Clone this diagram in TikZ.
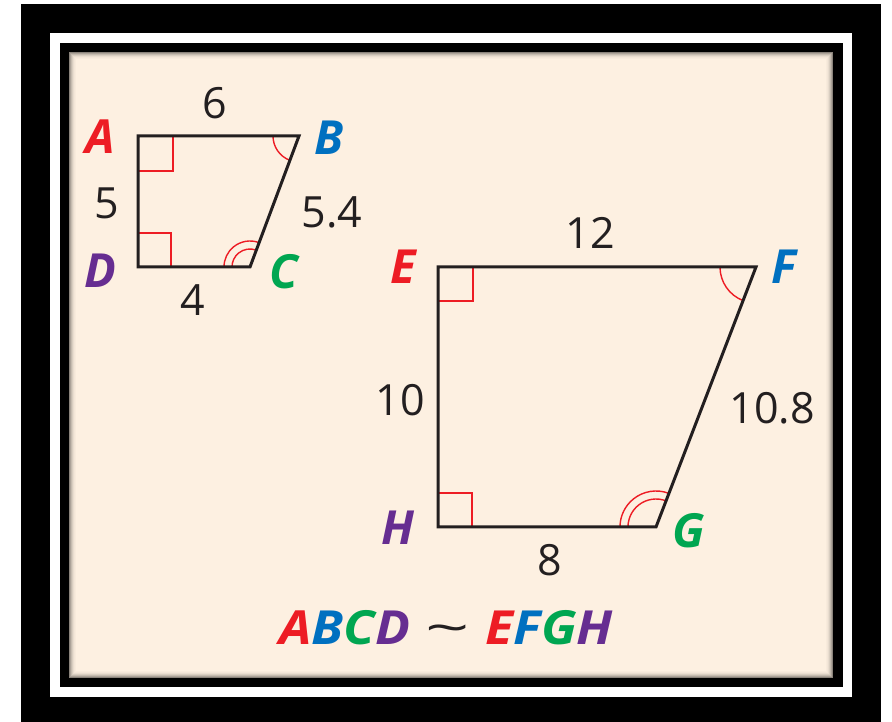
\documentclass[tikz,border=0pt]{standalone}
\usepackage{fontspec}
\setmainfont{Open Sans}
\usetikzlibrary{angles,calc}
\definecolor{bg}{RGB}{253,240,225}
\definecolor{cred}{RGB}{237,28,36}
\definecolor{cblue}{RGB}{0,112,192}
\definecolor{cgreen}{RGB}{0,166,81}
\definecolor{cpurple}{RGB}{102,45,145}
\definecolor{markred}{RGB}{237,28,36}
\definecolor{edge}{RGB}{35,31,32}
\tikzset{
  side/.style={draw=edge,line width=3pt,line join=miter},
  redmark/.style={draw=markred,line width=1.4pt},
  vlabel/.style={font=\fontsize{47}{47}\selectfont\bfseries\itshape,inner sep=0pt},
  num/.style={font=\fontsize{43}{43}\selectfont,text=edge,inner sep=0pt},
}
\begin{document}
\begin{tikzpicture}[x=1pt,y=1pt]
\useasboundingbox (0,0) rectangle (892,722);
\fill[white] (0,0) rectangle (892,722);
\fill[black] (21,0) rectangle (881,718);
\fill[white] (50,25) rectangle (852,689);
\fill[black] (60,35) rectangle (843,679);
\fill[bg] (69,44) rectangle (833,670);
\foreach \i/\o in {0/0.45,1/0.32,2/0.22,3/0.14,4/0.08,5/0.04,6/0.02}
  \draw[black,opacity=\o,line width=1pt] (69.5+\i,44.5+\i) rectangle (832.5-\i,669.5-\i);
% small quadrilateral
\coordinate (A) at (138,586);
\coordinate (B) at (299,586);
\coordinate (C) at (250,455);
\coordinate (D) at (138,455);
% big quadrilateral
\coordinate (E) at (438,455);
\coordinate (F) at (756,455);
\coordinate (G) at (656,195);
\coordinate (H) at (438,195);
% marks
\draw[redmark] ($(A)+(0,-35)$) -- ++(35,0) -- ++(0,35);
\draw[redmark] ($(D)+(0,34)$) -- ++(33,0) -- ++(0,-34);
\draw[redmark] ($(E)+(0,-34)$) -- ++(35,0) -- ++(0,34);
\draw[redmark] ($(H)+(0,34)$) -- ++(34,0) -- ++(0,-34);
\path pic[redmark,angle radius=26pt] {angle=A--B--C};
\path pic[redmark,angle radius=18pt] {angle=B--C--D};
\path pic[redmark,angle radius=26pt] {angle=B--C--D};
\path pic[redmark,angle radius=36pt] {angle=E--F--G};
\path pic[redmark,angle radius=28pt] {angle=F--G--H};
\path pic[redmark,angle radius=36pt] {angle=F--G--H};
\draw[side] (A) -- (B) -- (C) -- (D) -- cycle;
\draw[side] (E) -- (F) -- (G) -- (H) -- cycle;
% vertex labels
\node[vlabel,text=cred] (lA) at (100,585) {A};
\node[vlabel,text=cblue] (lB) at (329,584) {B};
\node[vlabel,text=cgreen] (lC) at (284,450) {C};
\node[vlabel,text=cpurple] (lD) at (100,451) {D};
\node[vlabel,text=cred] (lE) at (403,455) {E};
\node[vlabel,text=cblue] (lF) at (784,455) {F};
\node[vlabel,text=cgreen] (lG) at (689,191) {G};
\node[vlabel,text=cpurple] (lH) at (398,194) {H};
% side lengths
\node[num] (n6) at (215,619) {6};
\node[num] (n5) at (107,519) {5};
\node[num] (n54) at (332,510) {5.4};
\node[num] (n4) at (193,422) {4};
\node[num] (n12) at (590,489) {12};
\node[num] (n10) at (400,322) {10};
\node[num] (n108) at (772,314) {10.8};
\node[num] (n8) at (550,162) {8};
% similarity statement
\node[vlabel] (eq) at (446,94) {\scalebox{1.1}[1]{\textcolor{cred}{A}\textcolor{cblue}{B}\textcolor{cgreen}{C}\textcolor{cpurple}{D}\hspace{0.3em}{\mdseries\upshape\textcolor{edge}{\scalebox{1.5}[1]{\textasciitilde}}}\hspace{0.3em}\textcolor{cred}{E}\textcolor{cblue}{F}\textcolor{cgreen}{G}\textcolor{cpurple}{H}}};
\end{tikzpicture}
\end{document}
